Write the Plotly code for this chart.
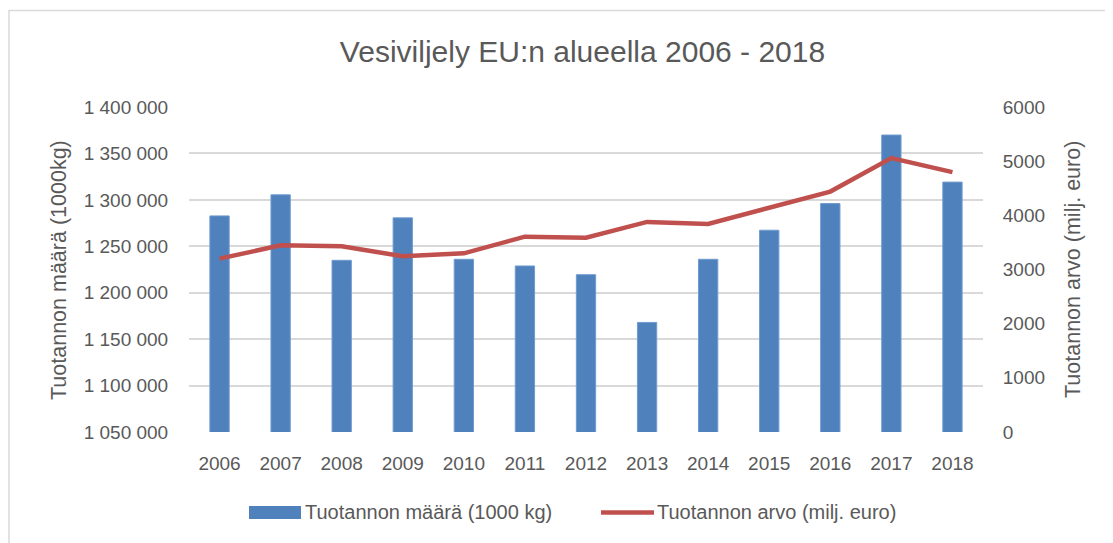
import plotly.graph_objects as go

years = ["2006", "2007", "2008", "2009", "2010", "2011", "2012",
         "2013", "2014", "2015", "2016", "2017", "2018"]
maara = [1282700, 1305400, 1234900, 1280600, 1236000, 1228800, 1219400,
         1168000, 1236000, 1267300, 1296000, 1369800, 1319100]
arvo = [3200, 3447, 3429, 3244, 3299, 3606, 3588,
        3878, 3841, 4150, 4439, 5056, 4797]

title_text = "Vesiviljely EU:n alueella 2006 - 2018"
name_bar = "Tuotannon määrä (1000 kg)"
name_line = "Tuotannon arvo (milj. euro)"
ytitle_left = "Tuotannon määrä (1000kg)"
ytitle_right = "Tuotannon arvo (milj. euro)"

FONT = "Liberation Sans, Arial, sans-serif"
GREY = "#595959"
GRID = "#d9d9d9"
BLUE = "#4f81bd"
RED = "#c0504d"

# page offset of the html body (8px default margin)
OFF = 8
PL, PR, PT, PB = 189, 983, 107.3, 431.7  # plot area in page pixels


def xp(px):
    return (px - PL) / (PR - PL)


def yp(py):
    return (PB - py) / (PB - PT)


fig = go.Figure()
fig.add_trace(go.Bar(x=years, y=maara, name=name_bar,
                     marker=dict(color=BLUE, line=dict(color="#6f9bd0", width=1)),
                     yaxis="y", showlegend=False))
fig.add_trace(go.Scatter(x=years, y=arvo, name=name_line, mode="lines",
                         line=dict(color=RED, width=4.5),
                         yaxis="y2", showlegend=False))

W, H = 1113, 543
fig.update_layout(
    width=W, height=H,
    margin=dict(l=PL - OFF, r=W - (PR - OFF), t=PT - OFF, b=H - (PB - OFF)),
    paper_bgcolor="white", plot_bgcolor="white",
    separators=", ",
    font=dict(family=FONT, color=GREY, size=19),
    title=dict(text=title_text, x=xp(582.5), xref="paper", xanchor="center",
               y=1 - (51 - OFF) / H, yanchor="middle",
               font=dict(size=30, color=GREY, family=FONT)),
    bargap=0.684,
    showlegend=False,
    xaxis=dict(type="category", showgrid=False, showline=False, zeroline=False,
               ticks="outside", ticklen=0, tickcolor="white", ticklabelstandoff=14,
               tickfont=dict(size=19, color=GREY)),
    yaxis=dict(range=[1050000, 1400000], dtick=50000, tickformat=",d",
               showgrid=True, gridcolor=GRID, gridwidth=1.5, zeroline=False,
               showline=False, ticks="outside", ticklen=0, tickcolor="white",
               ticklabelstandoff=16, tickfont=dict(size=19, color=GREY)),
    yaxis2=dict(range=[0, 6000], dtick=1000, overlaying="y", side="right",
                showgrid=False, zeroline=False, showline=False,
                ticks="outside", ticklen=0, tickcolor="white",
                ticklabelstandoff=15, tickfont=dict(size=19, color=GREY)),
)

fig.add_annotation(text=ytitle_left, xref="paper", yref="paper",
                   x=xp(59), y=yp(270), textangle=-90, showarrow=False,
                   xanchor="center", yanchor="middle",
                   font=dict(size=21.5, color=GREY, family=FONT))
fig.add_annotation(text=ytitle_right, xref="paper", yref="paper",
                   x=xp(1073), y=yp(270), textangle=-90, showarrow=False,
                   xanchor="center", yanchor="middle",
                   font=dict(size=21.5, color=GREY, family=FONT))

# legend (drawn manually to get the wide swatches)
LY = 512
fig.add_shape(type="rect", xref="paper", yref="paper",
              x0=xp(249), x1=xp(301), y0=yp(LY + 6.5), y1=yp(LY - 6.5),
              line=dict(width=0), fillcolor=BLUE)
fig.add_annotation(text=name_bar, xref="paper", yref="paper", x=xp(303), y=yp(LY),
                   xanchor="left", yanchor="middle", showarrow=False,
                   font=dict(size=20, color=GREY, family=FONT))
fig.add_shape(type="line", xref="paper", yref="paper",
              x0=xp(601), x1=xp(654), y0=yp(LY), y1=yp(LY),
              line=dict(color=RED, width=4.5))
fig.add_annotation(text=name_line, xref="paper", yref="paper", x=xp(655), y=yp(LY),
                   xanchor="left", yanchor="middle", showarrow=False,
                   font=dict(size=20, color=GREY, family=FONT))

# outer chart frame
fig.add_shape(type="rect", xref="paper", yref="paper",
              x0=xp(9), x1=xp(1140), y0=yp(570), y1=yp(11),
              line=dict(color="#d9d9d9", width=1.5), fillcolor="rgba(0,0,0,0)",
              layer="below")

fig.write_html("out.html")
